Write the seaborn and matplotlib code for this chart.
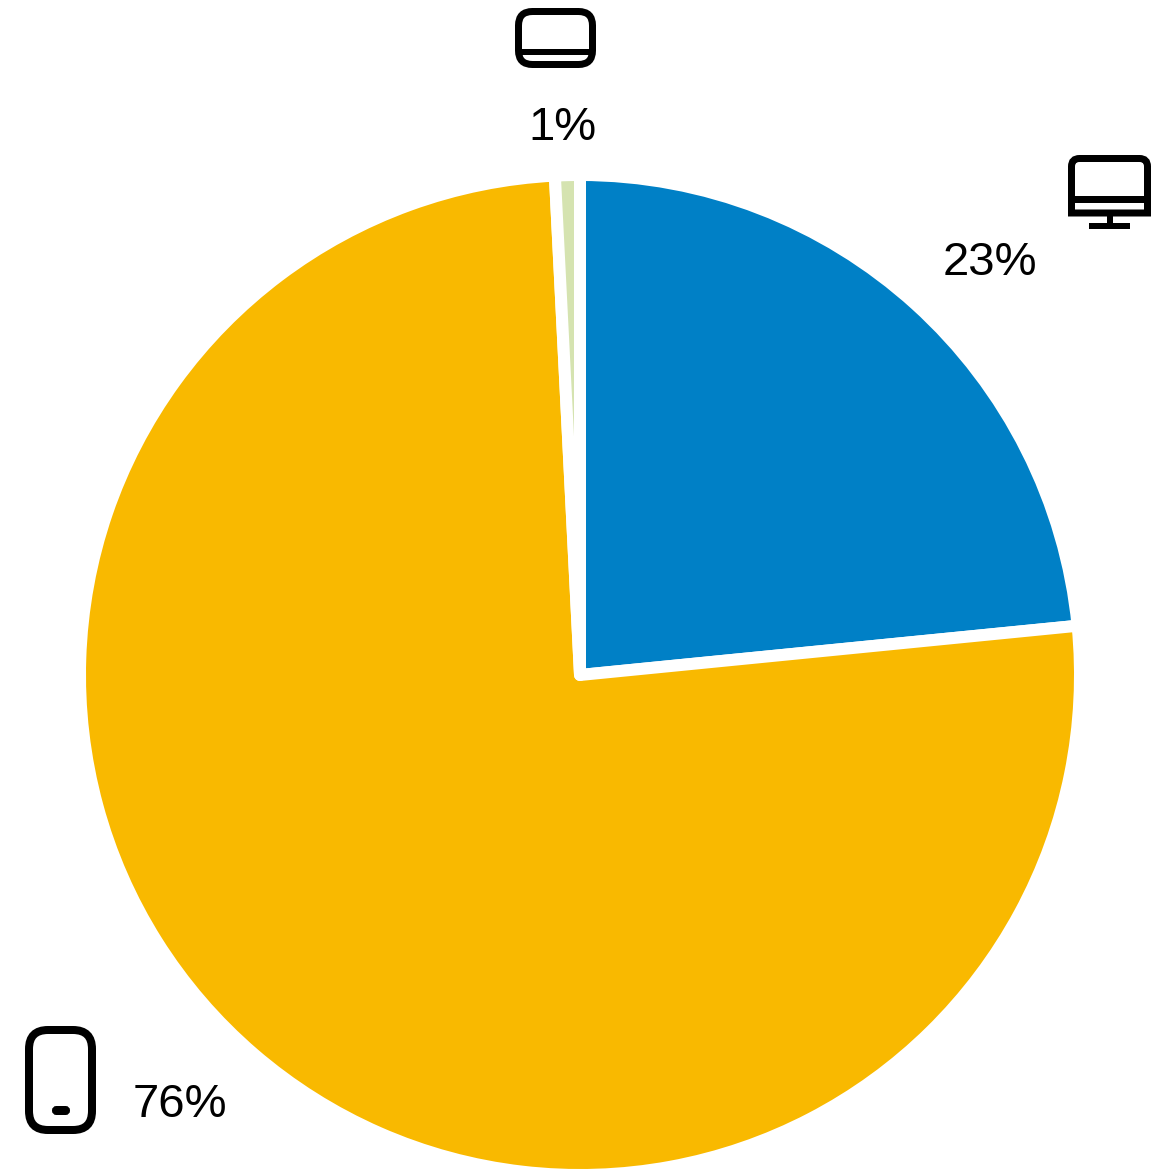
import matplotlib
matplotlib.use('Agg')
import matplotlib.pyplot as plt
import seaborn as sns
from matplotlib.patches import FancyBboxPatch, Rectangle, PathPatch
from matplotlib.path import Path

# Device share, going clockwise from 12 o'clock
devices = ['Desktop', 'Mobile', 'Tablet']
shares = [23.43, 75.77, 0.8]
share_labels = ['23%', '76%', '1%']
colors = ['#0080C6', '#F9B900', '#D5E3B0']

sns.set_theme(style='white')
plt.rcParams['font.family'] = ['Liberation Sans', 'DejaVu Sans']

W, H = 1154, 1169
fig = plt.figure(figsize=(W / 100, H / 100), dpi=100)
ax = fig.add_axes([0, 0, 1, 1])

# pixels to points for line widths
px = 72 / 100


def flip(y):
    return H - y


wedges, _ = ax.pie(shares, colors=sns.color_palette(colors), startangle=90, counterclock=False,
                   center=(580, flip(675)), radius=500, frame=True,
                   wedgeprops={'edgecolor': 'white', 'linewidth': 12 * px, 'joinstyle': 'round'})
ax.set_xlim(0, W)
ax.set_ylim(0, H)
ax.set_aspect('equal')
ax.axis('off')

# Percent labels
label_pos = {'Desktop': (1037, 275), 'Mobile': (227, 1117), 'Tablet': (597, 140)}
for name, text in zip(devices, share_labels):
    x, y = label_pos[name]
    ax.text(x, flip(y), text, ha='right', va='baseline', fontsize=34, color='black')


def rounded(x0, y0, x1, y1, r, lw, fill='none'):
    # rounded box given in image pixels (y down)
    box = FancyBboxPatch((x0 + r, flip(y1) + r), x1 - x0 - 2 * r, y1 - y0 - 2 * r,
                         boxstyle=f'round,pad={r},rounding_size={r}',
                         facecolor=fill, edgecolor='black', linewidth=lw * px)
    ax.add_patch(box)


def bar(x0, y0, x1, y1):
    ax.add_patch(Rectangle((x0, flip(y1)), x1 - x0, y1 - y0, facecolor='black', edgecolor='none'))


# Tablet icon
rounded(518.5, 11.5, 592.5, 64.5, 14, 7)
bar(518, 49, 593, 55)

# Phone icon
rounded(29, 1030, 92, 1130, 19, 8)
rounded(54, 1108, 68, 1113, 2.5, 4, fill='black')

# Desktop icon
r = 8
x0, x1, y0, y1 = 1071.5, 1147.5, 158.5, 213
verts = [(x0, flip(y1)), (x0, flip(y0 + r)), (x0, flip(y0)), (x0 + r, flip(y0)),
         (x1 - r, flip(y0)), (x1, flip(y0)), (x1, flip(y0 + r)), (x1, flip(y1)), (x0, flip(y1))]
codes = [Path.MOVETO, Path.LINETO, Path.CURVE3, Path.CURVE3, Path.LINETO,
         Path.CURVE3, Path.CURVE3, Path.LINETO, Path.CLOSEPOLY]
ax.add_patch(PathPatch(Path(verts, codes), facecolor='none', edgecolor='black', linewidth=7 * px))
bar(1071, 196, 1148, 203)
bar(1107, 216, 1113, 224)
bar(1089, 223, 1130, 229)

fig.savefig('out.png', dpi=100)
